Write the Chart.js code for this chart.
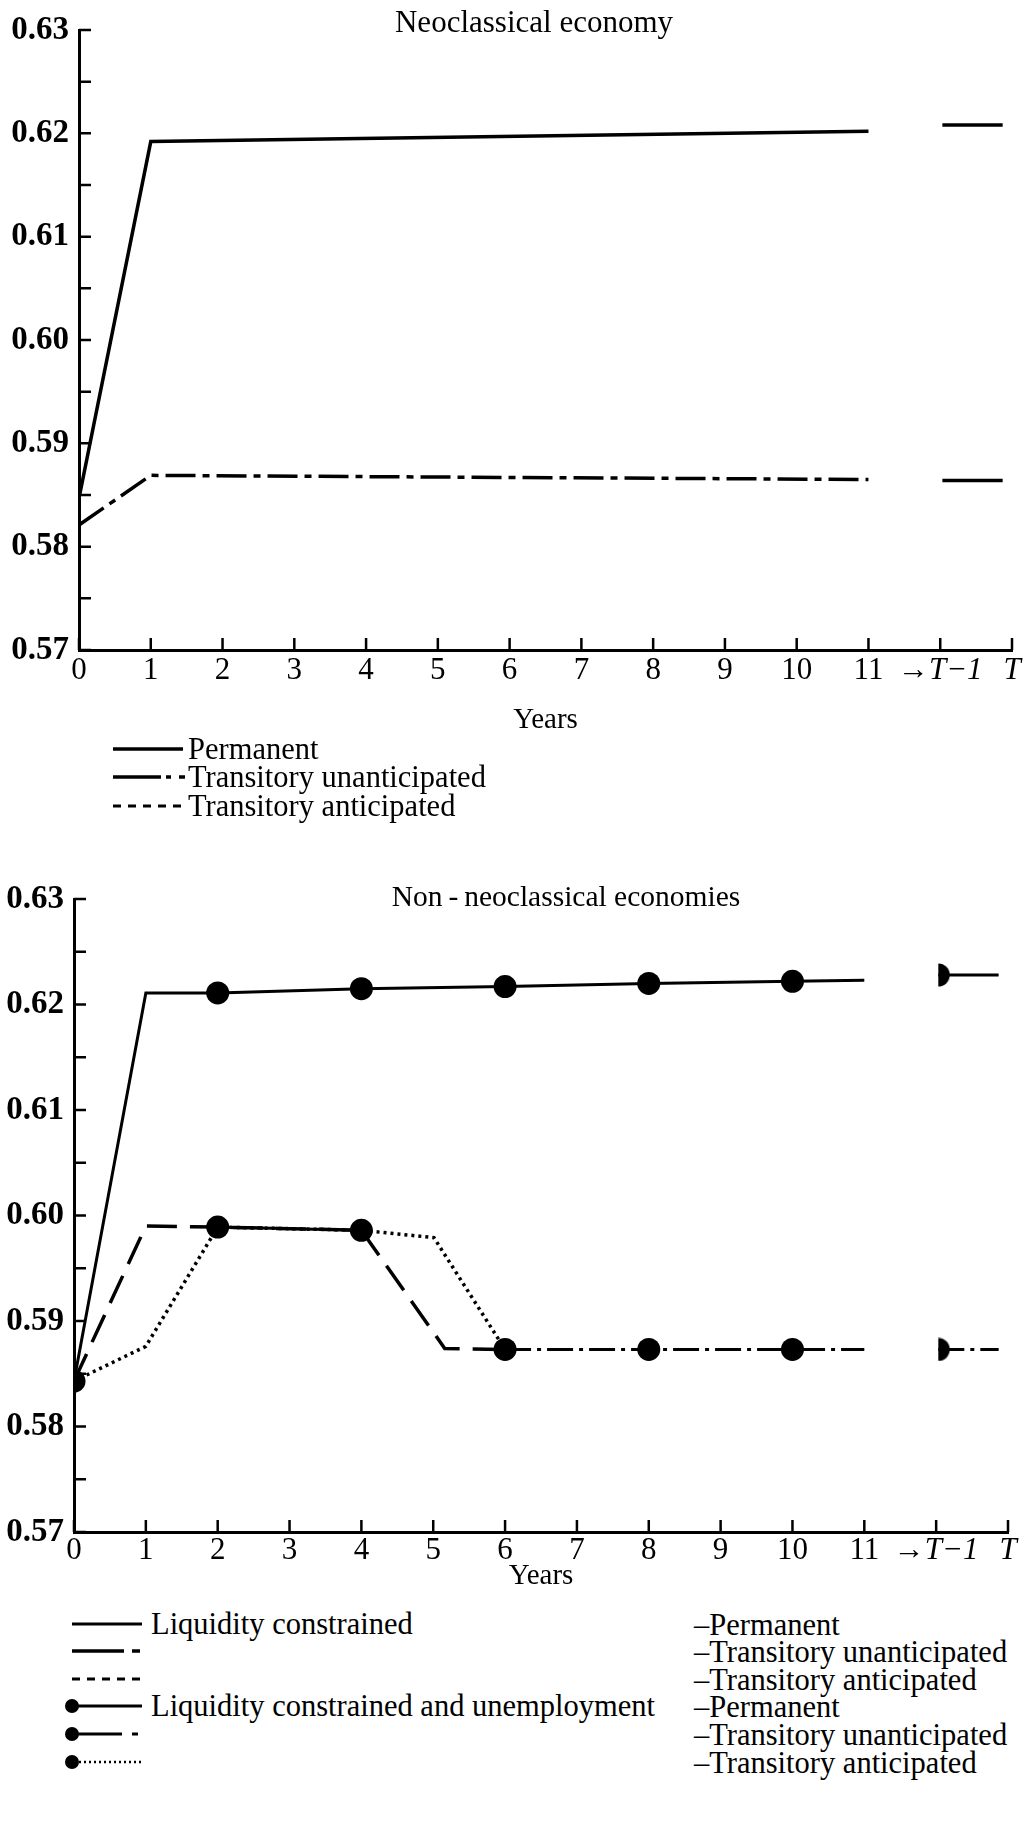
<!DOCTYPE html>
<html>
<head>
<meta charset="utf-8">
<script src="https://cdn.jsdelivr.net/npm/chart.js@4.4.0/dist/chart.umd.min.js"></script>
<style>
  body { margin: 0; background: #fff; }
  #page { position: relative; width: 1026px; height: 1823px; overflow: hidden; background: #fff;
          font-family: "Liberation Serif", "Times New Roman", serif; color: #000; }
  canvas { position: absolute; left: 0; }
  .title { position: absolute; width: 400px; font-size: 31px; line-height: 36px; white-space: nowrap; text-align: center; }
  .lg { position: absolute; font-size: 30.5px; line-height: 36px; white-space: nowrap; }
  .sw { position: absolute; }
</style>
</head>
<body>
<div id="page">
  <canvas id="neo" width="1026" height="738" style="top:0"></canvas>
  <canvas id="nonneo" width="1026" height="725" style="top:869px"></canvas>

  <div class="title" style="left:334px; top:4px">Neoclassical economy</div>
  <div class="title" style="left:366px; top:878px; font-size:29.5px">Non&#8201;-&#8201;neoclassical economies</div>

  <!-- top legend -->
  <svg class="sw" style="left:113px; top:731px" width="80" height="36">
    <line x1="0" y1="18" x2="70" y2="18" stroke="#000" stroke-width="3.5"/>
  </svg>
  <div class="lg" style="left:188px; top:731px">Permanent</div>
  <svg class="sw" style="left:113px; top:759px" width="80" height="36">
    <line x1="0" y1="18" x2="72" y2="18" stroke="#000" stroke-width="3.5" stroke-dasharray="48 5 5 8 6 40"/>
  </svg>
  <div class="lg" style="left:188px; top:759px">Transitory unanticipated</div>
  <svg class="sw" style="left:113px; top:788px" width="80" height="36">
    <line x1="0" y1="18" x2="70" y2="18" stroke="#000" stroke-width="3" stroke-dasharray="8 7"/>
  </svg>
  <div class="lg" style="left:188px; top:788px">Transitory anticipated</div>

  <!-- bottom legend -->
  <svg class="sw" style="left:64px; top:1606px" width="84" height="36">
    <line x1="8" y1="18" x2="78" y2="18" stroke="#000" stroke-width="3"/>
  </svg>
  <div class="lg" style="left:151px; top:1606px">Liquidity constrained</div>
  <div class="lg" style="left:694px; top:1607px">–Permanent</div>

  <svg class="sw" style="left:64px; top:1633px" width="84" height="36">
    <line x1="8" y1="18" x2="78" y2="18" stroke="#000" stroke-width="3.5" stroke-dasharray="52 8 8 100"/>
  </svg>
  <div class="lg" style="left:694px; top:1634px">–Transitory unanticipated</div>

  <svg class="sw" style="left:64px; top:1661px" width="84" height="36">
    <line x1="8" y1="18" x2="78" y2="18" stroke="#000" stroke-width="3" stroke-dasharray="8 7"/>
  </svg>
  <div class="lg" style="left:694px; top:1662px">–Transitory anticipated</div>

  <svg class="sw" style="left:64px; top:1688px" width="84" height="36">
    <circle cx="8" cy="18" r="7" fill="#000"/>
    <line x1="8" y1="18" x2="78" y2="18" stroke="#000" stroke-width="3"/>
  </svg>
  <div class="lg" style="left:151px; top:1688px">Liquidity constrained and unemployment</div>
  <div class="lg" style="left:694px; top:1689px">–Permanent</div>

  <svg class="sw" style="left:64px; top:1716px" width="84" height="36">
    <circle cx="8" cy="18" r="7" fill="#000"/>
    <line x1="8" y1="18" x2="78" y2="18" stroke="#000" stroke-width="3" stroke-dasharray="50 10 6 100"/>
  </svg>
  <div class="lg" style="left:694px; top:1717px">–Transitory unanticipated</div>

  <svg class="sw" style="left:64px; top:1744px" width="84" height="36">
    <circle cx="8" cy="18" r="7" fill="#000"/>
    <line x1="15" y1="18" x2="78" y2="18" stroke="#000" stroke-width="2.5" stroke-dasharray="2 3"/>
  </svg>
  <div class="lg" style="left:694px; top:1745px">–Transitory anticipated</div>
</div>

<script>
// axes
const xTickLabels = ["0", "1", "2", "3", "4", "5", "6", "7", "8", "9", "10", "11", "\u2192T\u22121", "T"];
const yTicks = [0.57, 0.575, 0.58, 0.585, 0.59, 0.595, 0.60, 0.605, 0.61, 0.615, 0.62, 0.625, 0.63];
const tailYears = [12.03, 12.87];

// neoclassical economy
const neoYears = [0, 1, 11];
const neoPermanent = [0.5847, 0.6192, 0.6202];
const neoUnanticipated = [0.5821, 0.5869, 0.5865];
const neoPermanentTail = [0.6208, 0.6208];
const neoUnanticipatedTail = [0.5864, 0.5864];

// non-neoclassical economies
const lcPermYears = [0, 1, 2, 4, 6, 8, 10, 11];
const lcPermanent = [0.5843, 0.6211, 0.6211, 0.6215, 0.6217, 0.6220, 0.6222, 0.6223];
const lcUnantYears = [0, 1, 2, 4, 5.16, 6];
const lcUnanticipated = [0.5843, 0.5990, 0.5989, 0.5986, 0.5874, 0.5873];
const lcAntYears = [0, 1, 2, 4, 5.01, 6];
const lcAnticipated = [0.5843, 0.5876, 0.5989, 0.5986, 0.5979, 0.5873];

const markerYears = [0, 2, 4, 6, 8, 10];
const lcuPermanent = [0.5843, 0.6211, 0.6215, 0.6217, 0.6220, 0.6222];
const lcuUnantYears = [2, 4, 5, 6, 8, 10, 11];
const lcuUnanticipated = [0.5989, 0.5986, null, 0.5873, 0.5873, 0.5873, 0.5873];
const lcuPermanentTail = [0.6228, 0.6228];
const lcuUnanticipatedTail = [0.5873, 0.5873];

const serif = '"Liberation Serif", "Times New Roman", serif';
const dashDot = [30, 7, 7, 7];

const pts = (xs, ys) => xs.map((x, i) => ({ x: x, y: ys[i] }));
const isMajor = v => Math.abs(v * 100 - Math.round(v * 100)) < 1e-6;

// D-shaped marker used where the curve restarts at T-1
const halfDot = document.createElement("canvas");
halfDot.width = 24;
halfDot.height = 24;
const hctx = halfDot.getContext("2d");
hctx.fillStyle = "#000";
hctx.beginPath();
hctx.moveTo(12, 0.5);
hctx.arc(12, 12, 11.5, -Math.PI / 2, Math.PI / 2);
hctx.closePath();
hctx.fill();

function line(xs, ys, extra) {
  return Object.assign({
    data: pts(xs, ys),
    borderColor: "#000",
    backgroundColor: "#000",
    borderWidth: 3.5,
    borderDash: [],
    pointRadius: 0,
    fill: false,
    tension: 0
  }, extra || {});
}

// ticks point into the plot in the original
const inwardTicks = {
  id: "inwardTicks",
  afterDraw(chart) {
    const { ctx, chartArea, scales: { x, y } } = chart;
    ctx.save();
    ctx.strokeStyle = "#000";
    ctx.lineWidth = 2.5;
    ctx.beginPath();
    x.ticks.forEach(t => {
      const px = x.getPixelForValue(t.value);
      ctx.moveTo(px, chartArea.bottom);
      ctx.lineTo(px, chartArea.bottom - 12);
    });
    y.ticks.forEach(t => {
      const py = y.getPixelForValue(t.value);
      ctx.moveTo(chartArea.left, py);
      ctx.lineTo(chartArea.left + 12, py);
    });
    ctx.stroke();
    ctx.restore();
  }
};

function makeChart(id, datasets, o) {
  return new Chart(document.getElementById(id), {
    type: "line",
    data: { datasets: datasets },
    options: {
      responsive: false,
      animation: false,
      events: [],
      layout: { padding: { top: 30, right: o.rightPad, left: 0, bottom: 0 } },
      plugins: { legend: { display: false }, tooltip: { enabled: false } },
      scales: {
        x: {
          type: "linear",
          min: 0,
          max: 13,
          afterBuildTicks: s => { s.ticks = xTickLabels.map((_, i) => ({ value: i })); },
          afterFit: s => { s.height = o.xHeight; },
          grid: { display: false, drawTicks: false },
          border: { display: true, color: "#000", width: 3 },
          ticks: {
            autoSkip: false,
            maxRotation: 0,
            padding: o.labelPad,
            color: "#000",
            font: c => ({ family: serif, size: 31, style: c.tick && c.tick.value >= 12 ? "italic" : "normal" }),
            callback: v => xTickLabels[v]
          },
          title: { display: true, text: "Years", color: "#000", font: { family: serif, size: 29 }, padding: 0 }
        },
        y: {
          min: 0.57,
          max: 0.63,
          afterBuildTicks: s => { s.ticks = yTicks.map(v => ({ value: v })); },
          afterFit: s => { s.width = o.leftWidth; },
          grid: { display: false, drawTicks: false },
          border: { display: true, color: "#000", width: 3 },
          ticks: {
            autoSkip: false,
            padding: 10,
            color: "#000",
            font: { family: serif, size: 33, weight: "bold" },
            callback: v => isMajor(v) ? v.toFixed(2) : ""
          }
        }
      }
    },
    plugins: [inwardTicks]
  });
}

makeChart("neo", [
  line(neoYears, neoPermanent),
  line(neoYears, neoUnanticipated, { borderDash: dashDot }),
  line(tailYears, neoPermanentTail),
  line(tailYears, neoUnanticipatedTail)
], { leftWidth: 79, rightPad: 14, xHeight: 88, labelPad: 2 });

const markerRadius = c => (c.raw && markerYears.includes(c.raw.x)) ? 11.5 : 0;
const tailMarker = {
  pointRadius: c => c.dataIndex === 0 ? 12 : 0,
  pointStyle: c => c.dataIndex === 0 ? halfDot : "circle"
};

makeChart("nonneo", [
  line(markerYears, lcuPermanent, { showLine: false, pointRadius: 11.5, pointBorderWidth: 0 }),
  line(lcuUnantYears, lcuUnanticipated, { borderDash: [26, 6, 4, 6], borderWidth: 3, pointRadius: markerRadius, pointBorderWidth: 0 }),
  line(tailYears, lcuPermanentTail, Object.assign({ borderWidth: 3 }, tailMarker)),
  line(tailYears, lcuUnanticipatedTail, Object.assign({ borderWidth: 3, borderDash: [26, 6, 4, 6] }, tailMarker)),
  line(lcPermYears, lcPermanent, { borderWidth: 3 }),
  line(lcUnantYears, lcUnanticipated, { borderDash: [30, 13] }),
  line(lcAntYears, lcAnticipated, { borderDash: [3, 4], borderWidth: 3.5 })
], { leftWidth: 74, rightPad: 18, xHeight: 62, labelPad: 0 });
</script>
</body>
</html>
